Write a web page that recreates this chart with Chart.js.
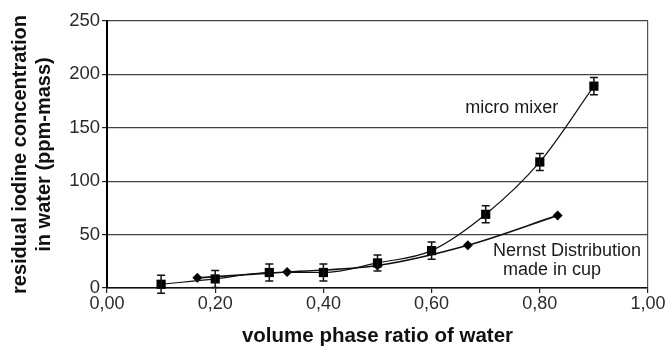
<!DOCTYPE html>
<html>
<head>
<meta charset="utf-8">
<script src="https://cdn.jsdelivr.net/npm/chart.js@4"></script>
<style>
  body { margin: 0; background: #fff; }
  #wrap { width: 666px; height: 350px; }
</style>
</head>
<body>
<div id="wrap"><canvas id="chart" width="666" height="350"></canvas></div>
<script>
// micro mixer measurements (with error bars)
var mixerX = [0.1, 0.2, 0.3, 0.4, 0.5, 0.6, 0.7, 0.8, 0.9];
var mixerY = [3.5, 8.5, 14.5, 14.5, 23.5, 35, 69, 118, 189];
var mixerErr = [8.5, 8, 8, 8, 7.5, 8, 8, 8, 8];

// Nernst distribution, made in cup
var nernstX = [0.167, 0.333, 0.5, 0.667, 0.833];
var nernstY = [9.5, 15, 21, 40, 68];

var yTicks = [0, 50, 100, 150, 200, 250];
var xTicks = [0, 0.2, 0.4, 0.6, 0.8, 1.0];

var textFont = '"Liberation Sans", Arial, sans-serif';

function toPoints(xs, ys) {
    return xs.map(function (v, i) { return { x: v, y: ys[i] }; });
}

// error bars and the two curve labels
var extras = {
    id: 'extras',
    afterDatasetsDraw: function (chart) {
        var ctx = chart.ctx;
        var x = chart.scales.x, y = chart.scales.y;
        ctx.save();
        ctx.strokeStyle = '#111';
        ctx.lineWidth = 1.5;
        mixerX.forEach(function (v, i) {
            var px = x.getPixelForValue(v);
            var top = y.getPixelForValue(mixerY[i] + mixerErr[i]);
            var bot = y.getPixelForValue(mixerY[i] - mixerErr[i]);
            ctx.beginPath();
            ctx.moveTo(px, top); ctx.lineTo(px, bot);
            ctx.moveTo(px - 4, top); ctx.lineTo(px + 4, top);
            ctx.moveTo(px - 4, bot); ctx.lineTo(px + 4, bot);
            ctx.stroke();
        });

        ctx.fillStyle = '#1a1a1a';
        ctx.font = '18px ' + textFont;
        ctx.textAlign = 'left';
        ctx.textBaseline = 'middle';
        ctx.fillText('micro mixer', x.getPixelForValue(0.662), y.getPixelForValue(168.5));
        ctx.fillText('Nernst Distribution', x.getPixelForValue(0.7135), y.getPixelForValue(34.6));
        ctx.fillText('made in cup', x.getPixelForValue(0.732), y.getPixelForValue(16.8));
        ctx.restore();
    }
};

var ctx = document.getElementById('chart').getContext('2d');

var chart = new Chart(ctx, {
    type: 'line',
    data: {
        datasets: [{
            label: 'micro mixer',
            data: toPoints(mixerX, mixerY),
            borderColor: '#111',
            borderWidth: 1.2,
            cubicInterpolationMode: 'monotone',
            pointStyle: 'rect',
            pointRadius: 6.5,
            pointBackgroundColor: '#000',
            pointBorderColor: '#000',
            pointBorderWidth: 0,
            clip: false
        }, {
            label: 'Nernst Distribution made in cup',
            data: toPoints(nernstX, nernstY),
            borderColor: '#111',
            borderWidth: 1.6,
            cubicInterpolationMode: 'monotone',
            pointStyle: 'rectRot',
            pointRadius: 5,
            pointBackgroundColor: '#000',
            pointBorderColor: '#000',
            pointBorderWidth: 0,
            clip: false
        }]
    },
    options: {
        responsive: false,
        animation: false,
        layout: {
            padding: { left: 0, right: 18, top: 21, bottom: 0 }
        },
        plugins: {
            legend: { display: false },
            tooltip: { enabled: false }
        },
        scales: {
            x: {
                type: 'linear',
                min: 0,
                max: 1,
                afterFit: function (scale) { scale.height = 62; },
                afterBuildTicks: function (scale) {
                    scale.ticks = xTicks.map(function (v) { return { value: v }; });
                },
                ticks: {
                    color: '#2a2a2a',
                    font: { family: textFont, size: 18 },
                    padding: 0,
                    maxRotation: 0,
                    callback: function (v) { return v.toFixed(2).replace('.', ','); }
                },
                grid: {
                    color: function (c) { return c.tick && c.tick.value === 1 ? '#555' : 'rgba(0,0,0,0)'; },
                    tickColor: '#222',
                    tickLength: 5,
                    lineWidth: 1.2
                },
                border: { color: '#111', width: 1.5 },
                title: {
                    display: true,
                    text: 'volume phase ratio of water',
                    color: '#111',
                    font: { family: textFont, size: 20.5, weight: 'bold', lineHeight: 1.2 },
                    padding: { top: 0, bottom: 1 }
                }
            },
            y: {
                min: 0,
                max: 250,
                afterFit: function (scale) { scale.width = 107; },
                afterBuildTicks: function (scale) {
                    scale.ticks = yTicks.map(function (v) { return { value: v }; });
                },
                ticks: {
                    color: '#2a2a2a',
                    font: { family: textFont, size: 18.5 },
                    padding: 2
                },
                grid: {
                    color: '#444',
                    tickColor: '#222',
                    tickLength: 5,
                    lineWidth: 1.2
                },
                border: { color: '#000', width: 2 },
                title: {
                    display: true,
                    text: ['residual iodine concentration', 'in water (ppm-mass)'],
                    color: '#111',
                    font: { family: textFont, size: 20, weight: 'bold', lineHeight: 1.2 },
                    padding: { top: 8, bottom: 0 }
                }
            }
        }
    },
    plugins: [extras]
});
</script>
</body>
</html>
